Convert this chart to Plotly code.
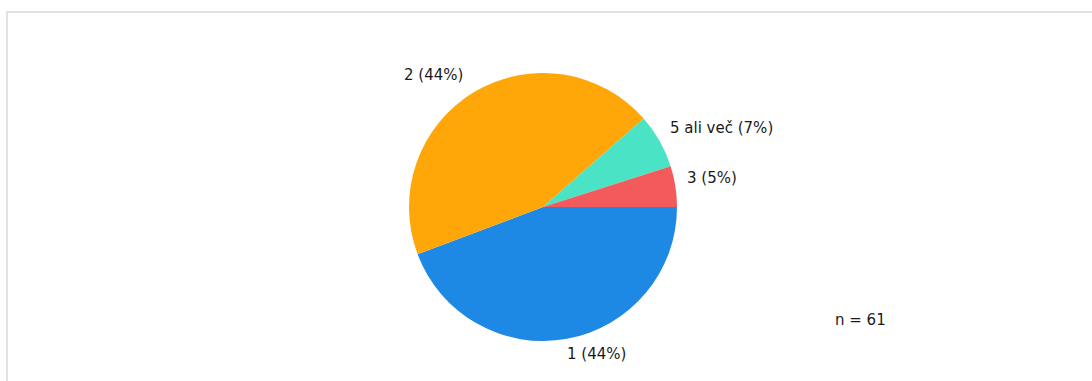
import plotly.graph_objects as go

categories = ["1", "2", "5 ali več", "3"]
counts = [27, 27, 4, 3]
percent_labels = ["44%", "44%", "7%", "5%"]
colors = ["#1e88e5", "#ffa709", "#4be3c5", "#f25a5c"]
n_total = 61

W, H = 1092, 381

fig = go.Figure()
fig.add_trace(go.Pie(
    labels=categories,
    values=counts,
    sort=False,
    direction="clockwise",
    rotation=90,
    marker=dict(colors=colors, line=dict(width=0)),
    textinfo="none",
    hoverinfo="label+value+percent",
    showlegend=False,
    domain=dict(x=[409 / W, 677 / W], y=[1 - 341 / H, 1 - 73 / H]),
))

# label positions (pixel centers) for each category
label_pos = [(597, 354), (433, 75), (721, 128), (712, 178)]
font = dict(family="DejaVu Sans", size=15, color="#1a1a1a")
for cat, pct, (px, py) in zip(categories, percent_labels, label_pos):
    fig.add_annotation(
        x=px / W, y=1 - py / H, xref="paper", yref="paper",
        text=f"{cat} ({pct})", showarrow=False,
        xanchor="center", yanchor="middle",
        font=font,
    )

fig.add_annotation(
    x=860 / W, y=1 - 320 / H, xref="paper", yref="paper",
    text=f"n = {n_total}", showarrow=False,
    xanchor="center", yanchor="middle",
    font=font,
)

# light frame
fig.add_shape(type="rect", xref="paper", yref="paper",
              x0=7 / W, x1=1.05, y0=-0.05, y1=1 - 12 / H,
              line=dict(color="#e2e2e2", width=2), fillcolor="rgba(0,0,0,0)")

fig.update_layout(
    width=W, height=H,
    margin=dict(l=0, r=0, t=0, b=0),
    paper_bgcolor="white",
    plot_bgcolor="white",
)

fig.write_html("out.html", config={"displayModeBar": False},
               post_script="document.body.style.margin='0px';")
